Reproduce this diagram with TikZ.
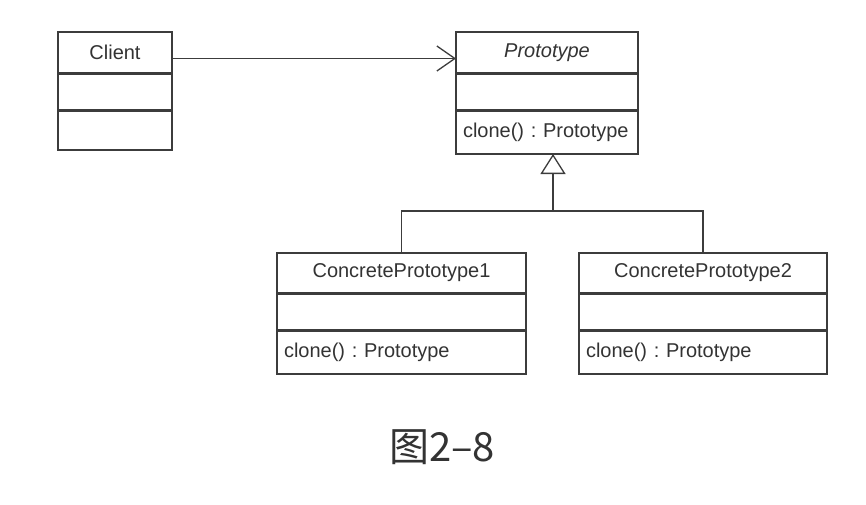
\documentclass[tikz,border=0pt]{standalone}
\usepackage{fontspec}
\setmainfont{Liberation Sans}
\newfontfamily\cjk{Noto Sans CJK SC}
\usetikzlibrary{positioning,arrows.meta}
\definecolor{linegray}{HTML}{3C3C3C}
\definecolor{textgray}{HTML}{333333}
\frenchspacing
\begin{document}
\begin{tikzpicture}[x=1pt, y=-1pt, line width=1.3pt, color=linegray, text=textgray,
  font=\fontsize{20}{24}\selectfont,
  part/.style={draw=linegray, inner sep=0pt, outer sep=0pt},
  oppart/.style={part, inner xsep=7pt, align=left},
  sep/.style={line width=3pt},
  assoc/.style={-{Straight Barb[length=18pt, width=25pt, line width=1.3pt]}},
  inherit/.style={-{Triangle[open, fill=white, length=20pt, width=25pt, line width=1.3pt]}}]
\useasboundingbox (0,0) rectangle (866,504);
\node[part, minimum width=114, minimum height=41] (Client_0) at (115,52.5) {Client};
\node[part, minimum width=114, minimum height=37, below=0pt of Client_0] (Client_1) {};
\node[part, minimum width=114, minimum height=40, below=0pt of Client_1] (Client_2) {};
\node[part, minimum width=182, minimum height=41] (Proto_0) at (547,52.5) {\itshape Prototype};
\node[part, minimum width=182, minimum height=37, below=0pt of Proto_0] (Proto_1) {};
\node[oppart, text width=168, minimum height=44, below=0pt of Proto_1] (Proto_2) {\mbox{clone() : Prototype}};
\node[part, minimum width=249, minimum height=40] (CP1_0) at (401.5,273) {ConcretePrototype1};
\node[part, minimum width=249, minimum height=37, below=0pt of CP1_0] (CP1_1) {};
\node[oppart, text width=235, minimum height=44, below=0pt of CP1_1] (CP1_2) {\mbox{clone() : Prototype}};
\node[part, minimum width=248, minimum height=40] (CP2_0) at (703,273) {ConcretePrototype2};
\node[part, minimum width=248, minimum height=37, below=0pt of CP2_0] (CP2_1) {};
\node[oppart, text width=234, minimum height=44, below=0pt of CP2_1] (CP2_2) {\mbox{clone() : Prototype}};
\foreach \n in {Client_1, Proto_1, CP1_1, CP2_1}
  \draw[sep] (\n.north west) -- (\n.north east) (\n.south west) -- (\n.south east);
% association
\draw[assoc] ([yshift=-6pt]Client_0.east) -- ([yshift=-6pt]Proto_0.west);
% generalization
\coordinate (J) at (553,211);
\draw (CP1_0.north) |- (J) -| (CP2_0.north);
\draw[inherit] (J) -- (Proto_2.south -| J);
\node[font=\cjk\fontsize{40}{48}\selectfont] (Cap) at (442,447) {图2–8};
\end{tikzpicture}
\end{document}
